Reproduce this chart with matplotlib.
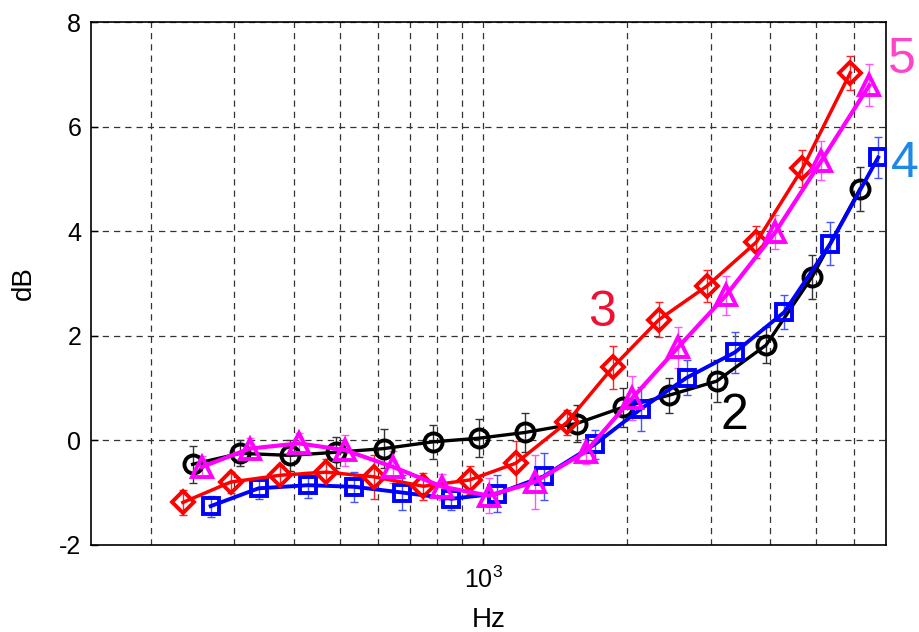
import numpy as np
import matplotlib
matplotlib.use("Agg")
import matplotlib.pyplot as plt
from matplotlib.ticker import NullFormatter, LogLocator

plt.rcParams['font.family'] = ['Liberation Sans', 'DejaVu Sans']
plt.rcParams['mathtext.fontset'] = 'custom'
plt.rcParams['mathtext.rm'] = 'Liberation Sans'
plt.rcParams['axes.unicode_minus'] = False

# frecuencias de tercio de octava (Hz)
freqs = [250, 315, 400, 500, 630, 800, 1000, 1250, 1600, 2000, 2500, 3150, 4000, 5000, 6300]

# curva 2 (negro, circulos)
v2 = [-0.46, -0.25, -0.29, -0.23, -0.16, -0.03, 0.04, 0.15, 0.32, 0.63, 0.86, 1.13, 1.82, 3.13, 4.81]
e2 = [0.35, 0.25, 0.3, 0.3, 0.38, 0.33, 0.36, 0.37, 0.35, 0.37, 0.34, 0.4, 0.35, 0.42, 0.42]

# curva 3 (rojo, rombos)
v3 = [-1.19, -0.8, -0.67, -0.61, -0.7, -0.88, -0.76, -0.44, 0.34, 1.4, 2.31, 2.95, 3.79, 5.2, 7.03]
e3 = [0.24, 0.2, 0.2, 0.25, 0.42, 0.26, 0.27, 0.43, 0.24, 0.41, 0.33, 0.3, 0.3, 0.36, 0.32]

# curva 4 (azul, cuadrados)
v4 = [-1.26, -0.92, -0.86, -0.89, -1.0, -1.12, -1.02, -0.69, -0.08, 0.6, 1.2, 1.68, 2.45, 3.76, 5.41]
e4 = [0.2, 0.2, 0.25, 0.29, 0.33, 0.21, 0.35, 0.45, 0.28, 0.42, 0.33, 0.39, 0.33, 0.41, 0.4]

# curva 5 (magenta, triangulos)
v5 = [-0.51, -0.16, -0.06, -0.19, -0.51, -0.89, -1.06, -0.8, -0.22, 0.8, 1.78, 2.77, 3.98, 5.35, 6.79]
e5 = [0.2, 0.2, 0.2, 0.3, 0.3, 0.25, 0.33, 0.52, 0.24, 0.42, 0.39, 0.37, 0.33, 0.38, 0.4]

f = np.array(freqs, dtype=float)

fig = plt.figure(figsize=(9.2, 6.32), dpi=100)
ax = fig.add_axes([0.099, 0.138, 0.864, 0.827])

# (valores, errores, desplazamiento en x, color linea, color barras, marcador, tam, grosor)
series = [
    (v2, e2, 0.98, 'black', '#333333', 'o', 13, 2.4),
    (v4, e4, 1.07, '#0000ff', '#4455ff', 's', 12, 2.8),
    (v3, e3, 0.935, '#ff0000', '#ff2222', 'D', 11, 2.5),
    (v5, e5, 1.025, '#ff00ff', '#ff55ff', '^', 14, 3.0),
]
for vals, errs, k, col, ecol, mk, ms, lw in series:
    ax.errorbar(f * k, vals, yerr=errs, fmt='none', ecolor=ecol,
                elinewidth=1, capsize=3, capthick=1, zorder=2)
    ax.plot(f * k, vals, color=col, lw=lw, marker=mk, ms=ms,
            mfc='none', mec=col, mew=2.8, zorder=3)

ax.set_xscale('log')
ax.set_xlim(150, 7000)
ax.set_ylim(-2, 8)
ax.set_yticks([-2, 0, 2, 4, 6, 8])
ax.xaxis.set_minor_locator(LogLocator(base=10, subs=np.arange(2, 10)))
ax.xaxis.set_minor_formatter(NullFormatter())

ax.grid(True, which='both', axis='x', ls=(0, (5, 4)), color='#333333', lw=0.9)
ax.grid(True, which='major', axis='y', ls=(0, (5, 4)), color='#333333', lw=0.9)
ax.set_axisbelow(True)

ax.tick_params(which='both', direction='in', labelsize=18, length=5, width=1)
ax.tick_params(which='minor', length=0)
ax.tick_params(axis='x', pad=16)
ax.tick_params(axis='y', pad=7)
for s in ax.spines.values():
    s.set_linewidth(1.2)

ax.set_xlabel('Hz', fontsize=20, labelpad=10)
ax.set_ylabel('dB', fontsize=20, labelpad=16)

# etiquetas de curvas
ax.text(1770, 2.0, '3', color='#ee1133', fontsize=36, ha='center', va='bottom')
ax.text(3370, 0.02, '2', color='black', fontsize=36, ha='center', va='bottom')
fig.text(0.965, 0.905, '5', color='#ff44cc', fontsize=36, ha='left', va='center')
fig.text(0.968, 0.74, '4', color='#1e88e5', fontsize=36, ha='left', va='center')

fig.savefig('out.png', dpi=100)
